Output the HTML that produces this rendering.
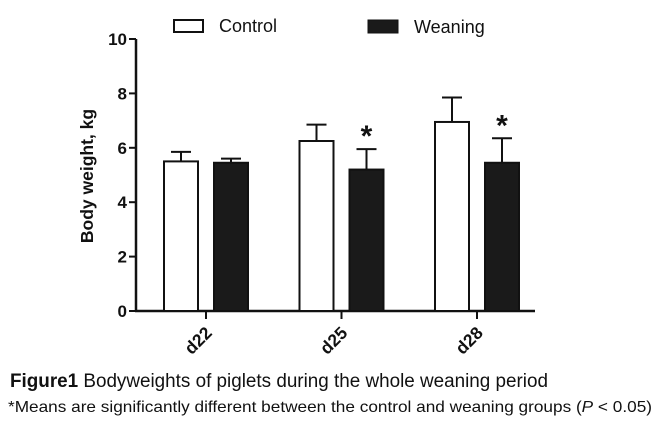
<!DOCTYPE html>
<html><head><meta charset="utf-8"><style>
body{margin:0;background:#fff;width:659px;height:427px;overflow:hidden;font-family:"Liberation Sans",Arial,sans-serif}
</style></head><body>
<svg width="659" height="427" style="position:absolute;left:0;top:0">
<g id="plot"></g>
<text x="10" y="387" font-size="19" fill="#111" textLength="538" lengthAdjust="spacingAndGlyphs"><tspan font-weight="bold">Figure1</tspan> Bodyweights of piglets during the whole weaning period</text>
<text x="8" y="412" font-size="16" fill="#111" textLength="644" lengthAdjust="spacingAndGlyphs">*Means are significantly different between the control and weaning groups (<tspan font-style="italic">P</tspan> &lt; 0.05)</text>
</svg>
<script>
const categories=["d22","d25","d28"];
const controlMean=[5.5,6.25,6.95];
const controlErr=[0.35,0.6,0.9];
const weaningMean=[5.45,5.2,5.45];
const weaningErr=[0.15,0.75,0.9];
const significant=[false,true,true];
const yTicks=[0,2,4,6,8,10];
const NS="http://www.w3.org/2000/svg";
const g=document.getElementById('plot');
const x0=136,x1=535,yTop=39,yBot=311;
const y=v=>yBot-(v/10)*(yBot-yTop);
const xc=i=>206+i*135.5;
function el(t,a,parent){const e=document.createElementNS(NS,t);for(const k in a)e.setAttribute(k,a[k]);(parent||g).appendChild(e);return e;}
let e;
e=el('line',{x1:x0,y1:yTop,x2:x0,y2:yBot+1,stroke:'#111','stroke-width':2.5});


e=el('line',{x1:x0-1,y1:yBot,x2:x1,y2:yBot,stroke:'#111','stroke-width':2.5});


yTicks.forEach(v=>{
 el('line',{x1:x0-7,y1:y(v),x2:x0,y2:y(v),stroke:'#111','stroke-width':2});
 e=el('text',{x:x0-9,y:y(v)+6,'font-size':17,'font-weight':'bold','text-anchor':'end',fill:'#111'});
 e.textContent=v;
 
 
});
e=el('text',{x:0,y:0,'font-size':17.5,'font-weight':'bold','text-anchor':'middle',fill:'#111',transform:'translate(93,176) rotate(-90)'});
e.textContent='Body weight, kg';


const bw=34;
categories.forEach((c,i)=>{
 const cx=xc(i);
 el('line',{x1:cx,y1:yBot,x2:cx,y2:yBot+8,stroke:'#111','stroke-width':2});
 e=el('text',{x:0,y:0,'font-size':17.5,'font-weight':'bold','text-anchor':'end',fill:'#111',transform:`translate(${cx+7},${yBot+23}) rotate(-45)`});
 e.textContent=c;
 
 
 [[controlMean,controlErr,-25,'#fff','control'],[weaningMean,weaningErr,25,'#1a1a1a','weaning']].forEach(([m,er,off,fill,nm])=>{
  const bx=cx+off;
  el('line',{x1:bx,y1:y(m[i]),x2:bx,y2:y(m[i]+er[i]),stroke:'#111','stroke-width':2});
  el('line',{x1:bx-10,y1:y(m[i]+er[i]),x2:bx+10,y2:y(m[i]+er[i]),stroke:'#111','stroke-width':2});
  e=el('rect',{x:bx-bw/2,y:y(m[i]),width:bw,height:yBot-y(m[i]),fill:fill,stroke:'#111','stroke-width':2});
  
  
 });
 if(significant[i]){
  e=el('text',{x:cx+25,y:y(weaningMean[i]+weaningErr[i])-3,'font-size':30,'font-weight':'bold','text-anchor':'middle',fill:'#111'});
  e.textContent='*';
  
  
 }
});
e=el('rect',{x:174,y:20,width:29,height:12,fill:'#fff',stroke:'#111','stroke-width':2});


e=el('text',{x:219,y:32,'font-size':18,fill:'#111'});e.textContent='Control';


e=el('rect',{x:368,y:20,width:30,height:13,fill:'#1a1a1a',stroke:'#111','stroke-width':1});


e=el('text',{x:414,y:33,'font-size':18,fill:'#111'});e.textContent='Weaning';


</script>
</body></html>
